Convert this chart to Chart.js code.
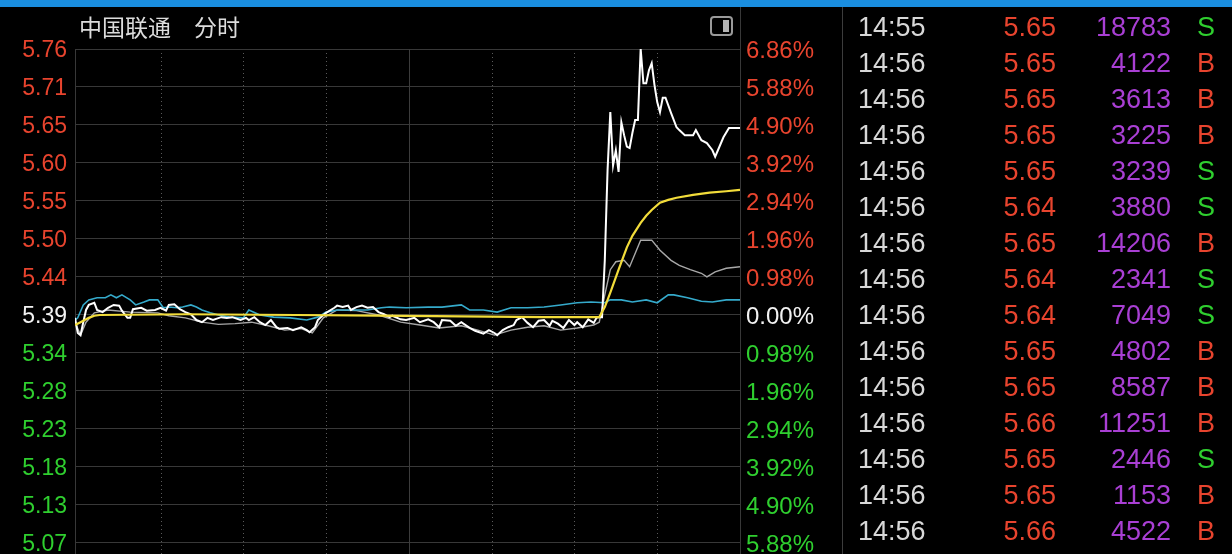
<!DOCTYPE html>
<html>
<head>
<meta charset="utf-8">
<script src="https://cdn.jsdelivr.net/npm/chart.js@4.4.0/dist/chart.umd.min.js"></script>
<style>
  body { margin: 0; background: #000; width: 1232px; height: 554px; overflow: hidden; position: relative; font-family: "Liberation Sans", Arial, sans-serif; }
  #topBar { position: absolute; left: 0; top: 0; width: 1232px; height: 7px; background: #1a8ee0; z-index: 2; }
  #chartBox { position: absolute; left: 0; top: 0; width: 843px; height: 554px; }
  #title { position: absolute; left: 79px; top: 13px; color: #dcdcdc; font: 23px/26px "Noto Sans CJK SC", sans-serif; white-space: pre; }
  #modeIcon { position: absolute; left: 710px; top: 16px; width: 19px; height: 16px; border: 2px solid #9a9a9a; border-radius: 4px; }
  #modeIcon::after { content: ""; position: absolute; right: 2px; top: 2px; width: 6px; height: 12px; background: #b4b4b4; }
  #tradeList { position: absolute; left: 842px; top: 7px; width: 390px; height: 547px; border-left: 1px solid #3c3c3c; }
  .row { position: absolute; left: 0; width: 390px; height: 36px; font-size: 27px; line-height: 36px; }
  .row span { position: absolute; top: 0; }
  .t { left: 15px; color: #d8d8d8; }
  .p { left: 0; width: 213px; text-align: right; color: #e8442e; }
  .v { left: 0; width: 328px; text-align: right; color: #a93fd4; }
  .s { left: 354px; }
</style>
</head>
<body>
<div id="topBar"></div>
<div id="chartBox"><canvas id="minuteChart" width="843" height="554"></canvas></div>
<div id="title">中国联通　分时</div>
<div id="modeIcon"></div>
<div id="tradeList"></div>
<script>
// previous close and the axis levels (each level = 0.98%)
const prevClose = 5.39;
const stepPct = 0.98;
const levels = [7, 6, 5, 4, 3, 2, 1, 0, -1, -2, -3, -4, -5, -6];
const priceLabels = ['5.76', '5.71', '5.65', '5.60', '5.55', '5.50', '5.44', '5.39', '5.34', '5.28', '5.23', '5.18', '5.13', '5.07'];
const pctLabels = ['6.86%', '5.88%', '4.90%', '3.92%', '2.94%', '1.96%', '0.98%', '0.00%', '0.98%', '1.96%', '2.94%', '3.92%', '4.90%', '5.88%'];
const sessionMarks = [31, 61, 91, 121, 151, 181, 211];

// price line (minute index, price)
const priceMinutes = [
  0, 1, 2, 3, 4, 5, 7, 8, 10, 12,
  14, 16, 17, 19, 20, 21, 24, 26, 29, 31,
  33, 34, 36, 38, 40, 42, 44, 46, 48, 50,
  53, 55, 57, 60, 62, 63, 65, 67, 69, 71,
  73, 74, 77, 79, 82, 84, 85, 87, 88, 90,
  91, 94, 95, 97, 99, 100, 102, 104, 106, 108,
  110, 112, 114, 115, 118, 120, 123, 125, 128, 130,
  132, 133, 136, 138, 140, 143, 145, 148, 150, 152,
  153, 155, 157, 159, 160, 162, 164, 166, 168, 170,
  172, 173, 175, 177, 179, 181, 182, 184, 186, 188,
  189, 190, 191, 192, 193, 194, 195, 196, 197, 198,
  199, 200, 201, 202, 203, 204, 205, 206, 207, 208,
  209, 210, 211, 212, 213, 214, 216, 218, 219, 221,
  224, 225, 227, 229, 231, 232, 233, 235, 237, 241
];
const priceValues = [
  5.386, 5.365, 5.362, 5.380, 5.397, 5.404, 5.407, 5.397, 5.394, 5.400,
  5.404, 5.403, 5.396, 5.386, 5.386, 5.398, 5.400, 5.396, 5.397, 5.400,
  5.396, 5.404, 5.405, 5.398, 5.394, 5.391, 5.383, 5.380, 5.386, 5.383,
  5.387, 5.386, 5.387, 5.383, 5.386, 5.383, 5.387, 5.380, 5.376, 5.383,
  5.373, 5.371, 5.372, 5.369, 5.373, 5.369, 5.366, 5.373, 5.383, 5.390,
  5.393, 5.400, 5.403, 5.401, 5.403, 5.397, 5.401, 5.403, 5.400, 5.401,
  5.394, 5.391, 5.387, 5.389, 5.384, 5.383, 5.386, 5.380, 5.384, 5.380,
  5.373, 5.383, 5.382, 5.375, 5.380, 5.372, 5.368, 5.364, 5.369, 5.365,
  5.362, 5.369, 5.373, 5.376, 5.383, 5.387, 5.379, 5.373, 5.382, 5.383,
  5.375, 5.382, 5.378, 5.372, 5.383, 5.376, 5.380, 5.373, 5.384, 5.379,
  5.386, 5.387, 5.387, 5.466, 5.591, 5.672, 5.598, 5.619, 5.589, 5.658,
  5.640, 5.624, 5.622, 5.643, 5.661, 5.661, 5.760, 5.712, 5.712, 5.730,
  5.740, 5.710, 5.686, 5.672, 5.692, 5.692, 5.671, 5.651, 5.647, 5.640,
  5.640, 5.647, 5.633, 5.629, 5.619, 5.610, 5.619, 5.637, 5.650, 5.650
];

// average price (yellow)
const avgMinutes = [0, 2, 5, 7, 9, 40, 80, 110, 140, 170, 190, 192, 194, 197, 200, 202, 205, 207, 209, 212, 215, 218, 224, 230, 236, 241];
const avgValues = [5.376, 5.380, 5.386, 5.389, 5.390, 5.391, 5.390, 5.389, 5.388, 5.387, 5.387, 5.401, 5.421, 5.453, 5.484, 5.500, 5.518, 5.528, 5.536, 5.546, 5.550, 5.553, 5.557, 5.560, 5.562, 5.564];

// market index overlay (cyan), on the price scale
const indexMinutes = [
  0, 1, 3, 5, 8, 11, 13, 15, 17, 20,
  22, 25, 27, 30, 32, 34, 37, 39, 42, 44,
  46, 49, 52, 56, 61, 63, 67, 72, 78, 84,
  88, 91, 95, 100, 106, 111, 114, 120, 128, 133,
  140, 143, 148, 153, 158, 164, 170, 176, 182, 187,
  192, 194, 198, 202, 207, 211, 215, 217, 222, 227,
  231, 236, 241
];
const indexValues = [
  5.383, 5.386, 5.404, 5.411, 5.414, 5.414, 5.418, 5.414, 5.418, 5.411,
  5.404, 5.408, 5.411, 5.411, 5.400, 5.401, 5.400, 5.401, 5.404, 5.401,
  5.397, 5.393, 5.390, 5.387, 5.386, 5.397, 5.390, 5.387, 5.386, 5.383,
  5.387, 5.394, 5.397, 5.397, 5.397, 5.400, 5.401, 5.400, 5.401, 5.401,
  5.404, 5.397, 5.397, 5.394, 5.400, 5.400, 5.401, 5.404, 5.407, 5.408,
  5.407, 5.411, 5.411, 5.408, 5.411, 5.407, 5.418, 5.418, 5.414, 5.409,
  5.408, 5.411, 5.411
];

// sector overlay (grey)
const sectorMinutes = [
  0, 2, 4, 7, 12, 20, 30, 34, 40, 46,
  52, 58, 64, 70, 76, 82, 86, 90, 95, 102,
  110, 118, 125, 132, 140, 146, 152, 158, 164, 170,
  176, 182, 188, 190, 192, 194, 196, 199, 201, 205,
  209, 212, 216, 219, 223, 227, 229, 232, 236, 241
];
const sectorValues = [
  5.380, 5.362, 5.380, 5.393, 5.397, 5.394, 5.393, 5.389, 5.386, 5.380,
  5.377, 5.378, 5.380, 5.375, 5.369, 5.371, 5.365, 5.386, 5.397, 5.396,
  5.390, 5.380, 5.376, 5.372, 5.375, 5.369, 5.362, 5.369, 5.373, 5.375,
  5.369, 5.372, 5.376, 5.380, 5.418, 5.453, 5.464, 5.466, 5.457, 5.494,
  5.494, 5.480, 5.466, 5.459, 5.453, 5.448, 5.443, 5.450, 5.455, 5.457
];

// tick-by-tick trades
const tradeTimes = ['14:55', '14:56', '14:56', '14:56', '14:56', '14:56', '14:56', '14:56', '14:56', '14:56', '14:56', '14:56', '14:56', '14:56', '14:56'];
const tradePrices = ['5.65', '5.65', '5.65', '5.65', '5.65', '5.64', '5.65', '5.64', '5.64', '5.65', '5.65', '5.66', '5.65', '5.65', '5.66'];
const tradeVolumes = [18783, 4122, 3613, 3225, 3239, 3880, 14206, 2341, 7049, 4802, 8587, 11251, 2446, 1153, 4522];
const tradeSides = ['S', 'B', 'B', 'B', 'S', 'S', 'B', 'S', 'S', 'B', 'B', 'B', 'S', 'B', 'B'];

const RED = '#e8442e';
const GREEN = '#2fcf2f';
const WHITE = '#f2f2f2';
const gridColor = '#383838';

// trade list
const list = document.getElementById('tradeList');
tradeTimes.forEach((t, i) => {
  const row = document.createElement('div');
  row.className = 'row';
  row.style.top = (2 + i * 36) + 'px';
  const side = tradeSides[i];
  row.innerHTML = '<span class="t">' + t + '</span>' +
    '<span class="p">' + tradePrices[i] + '</span>' +
    '<span class="v">' + tradeVolumes[i] + '</span>' +
    '<span class="s" style="color:' + (side === 'B' ? RED : GREEN) + '">' + side + '</span>';
  list.appendChild(row);
});

const toPoints = (xs, ys) => xs.map((m, i) => ({ x: m, y: ys[i] }));
const levelValue = k => prevClose * (1 + k * stepPct / 100);
const ascLevels = levels.slice().reverse();
const priceLabelsAsc = priceLabels.slice().reverse();
const pctLabelsAsc = pctLabels.slice().reverse();
const tickColor = ctx => {
  const v = ctx.tick.value;
  if (v > prevClose + 1e-6) return RED;
  if (v < prevClose - 1e-6) return GREEN;
  return WHITE;
};

// dotted half-hour lines and the separator above the plot
const sessionLines = {
  id: 'sessionLines',
  beforeDatasetsDraw(chart) {
    const { ctx, chartArea, scales } = chart;
    ctx.save();
    ctx.lineWidth = 1;
    sessionMarks.forEach(m => {
      const x = Math.round(scales.x.getPixelForValue(m)) + 0.5;
      const solid = m === 121;
      ctx.strokeStyle = solid ? '#3c3c3c' : '#5a5a5a';
      ctx.setLineDash(solid ? [] : [1, 3]);
      ctx.beginPath();
      ctx.moveTo(x, chartArea.top + (solid ? 0 : 4));
      ctx.lineTo(x, chartArea.bottom);
      ctx.stroke();
    });
    ctx.setLineDash([]);
    ctx.strokeStyle = gridColor;
    const rx = Math.round(chartArea.right) + 0.5;
    ctx.beginPath();
    ctx.moveTo(rx, 0);
    ctx.lineTo(rx, chartArea.top);
    ctx.stroke();
    ctx.restore();
  }
};

const yMax = levelValue(7);
const yMin = levelValue(-6.29);
const tickFont = { family: '"Liberation Sans", Arial, sans-serif', size: 23 };

new Chart(document.getElementById('minuteChart').getContext('2d'), {
  type: 'line',
  data: {
    datasets: [
      { label: '均价', data: toPoints(avgMinutes, avgValues), borderColor: '#f2dc3a', borderWidth: 2.2, pointRadius: 0, tension: 0 },
      { label: '价格', data: toPoints(priceMinutes, priceValues), borderColor: '#ffffff', borderWidth: 2, pointRadius: 0, tension: 0 },
      { label: '大盘', data: toPoints(indexMinutes, indexValues), borderColor: '#35aacb', borderWidth: 1.6, pointRadius: 0, tension: 0 },
      { label: '板块', data: toPoints(sectorMinutes, sectorValues), borderColor: '#a8a8a8', borderWidth: 1.4, pointRadius: 0, tension: 0 },
    ],
  },
  options: {
    responsive: false,
    animation: false,
    devicePixelRatio: 1,
    layout: { padding: { top: 49, bottom: 0, left: 0, right: 0 } },
    plugins: { legend: { display: false }, tooltip: { enabled: false } },
    scales: {
      x: { type: 'linear', min: 0, max: 241, display: false },
      y: {
        position: 'left',
        min: yMin,
        max: yMax,
        afterBuildTicks: s => { s.ticks = ascLevels.map(k => ({ value: levelValue(k) })); },
        afterFit: s => { s.width = 75; s.paddingTop = 0; s.paddingBottom = 0; },
        ticks: { autoSkip: false, padding: 8, labelOffset: 2, font: tickFont, color: tickColor, callback: (v, i) => priceLabelsAsc[i] },
        grid: { color: gridColor, lineWidth: 1, drawTicks: false },
        border: { color: gridColor },
      },
      y2: {
        position: 'right',
        min: yMin,
        max: yMax,
        afterBuildTicks: s => { s.ticks = ascLevels.map(k => ({ value: levelValue(k) })); },
        afterFit: s => { s.width = 103; s.paddingTop = 0; s.paddingBottom = 0; },
        ticks: { autoSkip: false, padding: 6, labelOffset: 2, font: { family: tickFont.family, size: 24 }, color: tickColor, callback: (v, i) => pctLabelsAsc[i] },
        grid: { drawOnChartArea: false, drawTicks: false },
        border: { color: gridColor },
      },
    },
  },
  plugins: [sessionLines],
});
</script>
</body>
</html>
